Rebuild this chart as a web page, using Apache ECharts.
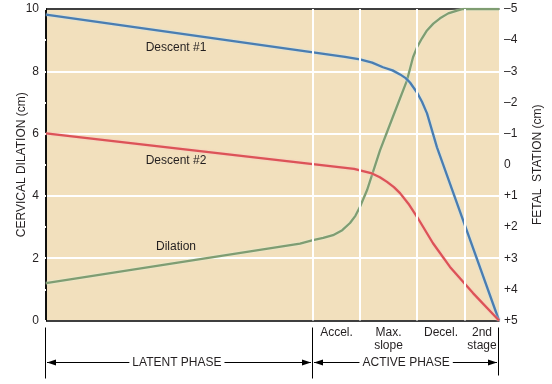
<!DOCTYPE html>
<html>
<head>
<meta charset="utf-8">
<script src="https://cdn.jsdelivr.net/npm/echarts@6/dist/echarts.min.js"></script>
<style>
html,body{margin:0;padding:0;background:#fff;}
#c{width:552px;height:384px;}
</style>
</head>
<body>
<div id="c"></div>
<script>
// ---- data ----
// x is relative labour time (0 = start of latent phase, 100 = delivery)
const descent1X = [0, 66.0, 69.32, 72.0, 74.39, 76.5, 78.15, 79.4, 80.35, 81.9, 83.0, 84.11, 86.31, 100];
const descent1Y = [-4.82, -3.46, -3.38, -3.28, -3.13, -3.03, -2.90, -2.78, -2.64, -2.32, -2.02, -1.65, -0.56, 5];
const descent2X = [0, 68.0, 69.32, 71.96, 73.7, 75.28, 76.8, 78.15, 80.0, 81.9, 85.43, 89.18, 94.26, 100];
const descent2Y = [-1.01, 0.13, 0.18, 0.28, 0.40, 0.55, 0.72, 0.91, 1.25, 1.67, 2.52, 3.28, 4.12, 5];
const dilationX = [0, 56.07, 58.94, 61.2, 63.36, 65.4, 67.11, 68.3, 69.32, 70.86, 73.73, 76.6, 79.69, 81.02, 81.9, 83.0, 84.1, 85.5, 86.98, 88.8, 90.73, 92.05, 100];
const dilationY = [1.2, 2.47, 2.58, 2.65, 2.74, 2.9, 3.13, 3.36, 3.65, 4.18, 5.46, 6.55, 7.71, 8.45, 8.77, 9.06, 9.31, 9.53, 9.70, 9.86, 9.95, 10, 10];
const stageBounds = [58.94, 69.32, 81.9, 92.5, 100];
const stageLabels = ['Accel.', 'Max.\nslope', 'Decel.', '2nd\nstage'];
const phaseNames = ['LATENT PHASE', 'ACTIVE PHASE'];
const phaseBounds = [[0, 58.94], [58.94, 100]];
const phaseLabelX = [28.9, 79.5];
const seriesNames = ['Descent #1', 'Descent #2', 'Dilation'];
const seriesLabelAt = [[28.7, -3.77, 1], [28.7, -0.14, 1], [28.7, 2.36, 0]]; // x, y, yAxisIndex

const pairs = (xs, ys) => xs.map((x, i) => [x, ys[i]]);
const FONT = 'Liberation Sans, Arial, sans-serif';
const FS = 12;
const TXT = '#231f20';

const chart = echarts.init(document.getElementById('c'), null, {renderer: 'canvas'});
chart.setOption({
  animation: false,
  backgroundColor: '#ffffff',
  grid: {left: 46, right: 53, top: 9, bottom: 63.5, show: true, backgroundColor: '#f2e0bd', borderWidth: 0,
         outerBoundsMode: 'none', containLabel: false},
  xAxis: [
    {type: 'value', min: 0, max: 100, position: 'bottom',
     axisLine: {show: true, onZero: false, lineStyle: {color: '#000', width: 1.5}},
     axisTick: {show: false}, axisLabel: {show: false}, splitLine: {show: false}},
    {type: 'value', min: 0, max: 100, position: 'top',
     axisLine: {show: true, onZero: false, lineStyle: {color: '#000', width: 1.5}},
     axisTick: {show: false}, axisLabel: {show: false}, splitLine: {show: false}}
  ],
  yAxis: [
    {type: 'value', min: 0, max: 10, interval: 2, position: 'left',
     name: 'CERVICAL DILATION (cm)', nameLocation: 'middle', nameGap: 18, nameRotate: 90,
     nameMoveOverlap: false,
     nameTextStyle: {fontFamily: FONT, fontSize: FS, color: TXT},
     axisLine: {show: true, lineStyle: {color: '#000', width: 1.5}},
     axisTick: {show: false},
     axisLabel: {fontFamily: FONT, fontSize: FS, color: TXT, margin: 7},
     splitLine: {show: true, lineStyle: {color: '#ffffff', width: 2}}},
    {type: 'value', min: -5, max: 5, interval: 1, inverse: true, position: 'right',
     name: 'FETAL  STATION (cm)', nameLocation: 'middle', nameGap: 33, nameRotate: 90,
     nameMoveOverlap: false,
     nameTextStyle: {fontFamily: FONT, fontSize: FS, color: TXT},
     axisLine: {show: true, lineStyle: {color: '#000', width: 1.5}},
     axisTick: {show: true, inside: true, length: 10, lineStyle: {color: '#ffffff', width: 2}},
     axisLabel: {fontFamily: FONT, fontSize: FS, color: TXT, margin: 5,
       formatter: v => v < 0 ? '\u2013' + Math.abs(v) : (v > 0 ? '+' + v : '0')},
     splitLine: {show: false}}
  ],
  series: [
    {type: 'line', name: 'grid', data: [], z: 1, silent: true,
     markLine: {silent: true, symbol: 'none', label: {show: false},
       lineStyle: {color: '#ffffff', width: 2, type: 'solid'},
       data: stageBounds.slice(0, 4).map(v => ({xAxis: v}))}},
    {type: 'line', name: seriesNames[0], yAxisIndex: 1, data: pairs(descent1X, descent1Y),
     showSymbol: false, smooth: false, z: 3,
     lineStyle: {color: '#4a7db1', width: 2.3, join: 'round', shadowColor: 'rgba(190,225,245,0.95)', shadowBlur: 2}},
    {type: 'line', name: seriesNames[1], yAxisIndex: 1, data: pairs(descent2X, descent2Y),
     showSymbol: false, smooth: false, z: 3,
     lineStyle: {color: '#dc5357', width: 2.3, join: 'round', shadowColor: 'rgba(250,190,190,0.95)', shadowBlur: 2}},
    {type: 'line', name: seriesNames[2], yAxisIndex: 0, data: pairs(dilationX, dilationY),
     showSymbol: false, smooth: false, z: 2,
     lineStyle: {color: '#7f9d72', width: 2.3, join: 'round', shadowColor: 'rgba(225,240,215,0.95)', shadowBlur: 2}}
  ]
});

// ---- annotations positioned through the axis scales ----
const px = v => chart.convertToPixel({xAxisIndex: 0}, v);
const g = [];
const axisBottom = 384 - 63.5;
const brTop = axisBottom + 7, brBot = axisBottom + 58;
const arrowY = axisBottom + 42;
const lineStyle = {stroke: '#000', lineWidth: 1};
[0, stageBounds[0], 100].forEach((v, i) => {
  const x = Math.round(px(v)) - 0.5;
  g.push({type: 'line', shape: {x1: x, y1: brTop, x2: x, y2: i === 2 ? brBot - 3 : brBot}, style: lineStyle});
});
for (let i = 0; i < stageLabels.length; i++) {
  const c = (px(stageBounds[i]) + px(stageBounds[i + 1])) / 2;
  g.push({type: 'text', x: c, y: brTop - 1, style: {text: stageLabels[i], font: FS + 'px ' + FONT, fill: TXT, align: 'center', verticalAlign: 'top', lineHeight: 13}});
}
phaseBounds.forEach((b, i) => {
  const x0 = px(b[0]) + 1, x1 = px(b[1]) - 2;
  const c = px(phaseLabelX[i]);
  const half = echarts.format.getTextRect
    ? echarts.format.getTextRect(phaseNames[i], FS + 'px ' + FONT).width / 2
    : phaseNames[i].length * 3.8;
  g.push({type: 'line', shape: {x1: x0, y1: arrowY, x2: c - half - 3, y2: arrowY}, style: lineStyle});
  g.push({type: 'line', shape: {x1: c + half + 3, y1: arrowY, x2: x1, y2: arrowY}, style: lineStyle});
  g.push({type: 'polygon', shape: {points: [[x0, arrowY], [x0 + 9, arrowY - 3], [x0 + 9, arrowY + 3]]}, style: {fill: '#000'}});
  g.push({type: 'polygon', shape: {points: [[x1, arrowY], [x1 - 9, arrowY - 3], [x1 - 9, arrowY + 3]]}, style: {fill: '#000'}});
  g.push({type: 'text', x: c, y: arrowY, style: {text: phaseNames[i], font: FS + 'px ' + FONT, fill: TXT, align: 'center', verticalAlign: 'middle'}});
});
seriesLabelAt.forEach((p, i) => {
  const pt = chart.convertToPixel({xAxisIndex: 0, yAxisIndex: p[2]}, [p[0], p[1]]);
  g.push({type: 'text', x: pt[0], y: pt[1], z: 10, style: {text: seriesNames[i], font: FS + 'px ' + FONT, fill: TXT, align: 'center', verticalAlign: 'middle'}});
});
chart.setOption({graphic: g});
</script>
</body>
</html>
